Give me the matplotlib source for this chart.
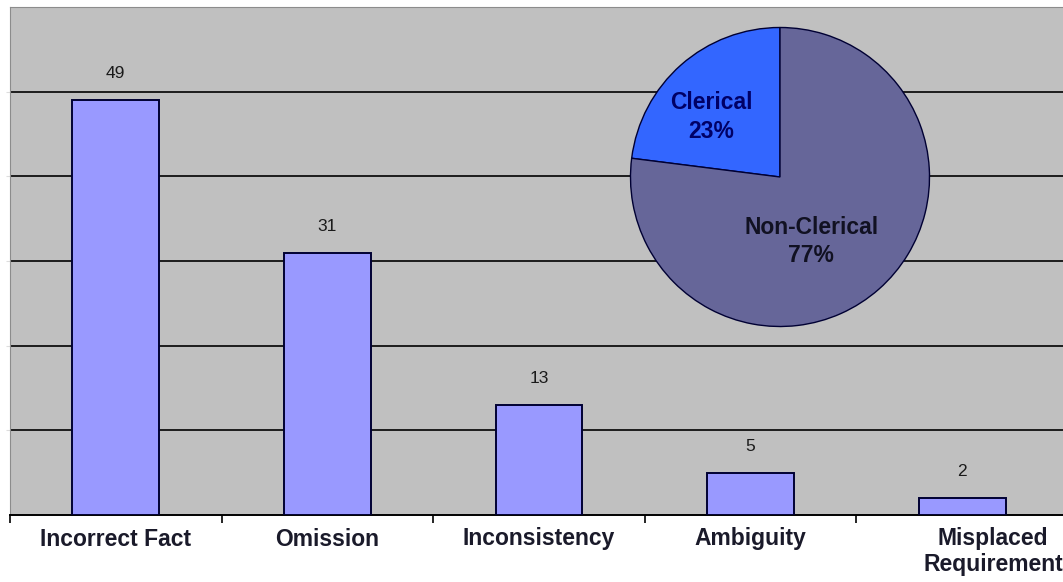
import matplotlib
matplotlib.use('Agg')
import matplotlib.pyplot as plt
import matplotlib.transforms as mtransforms
import numpy as np

plt.rcParams['font.family'] = ['Liberation Sans', 'DejaVu Sans']

# defect counts by category
categories = ['Incorrect Fact', 'Omission', 'Inconsistency', 'Ambiguity', 'Misplaced\nRequirement']
counts = [49, 31, 13, 5, 2]

# clerical vs non-clerical share
pie_labels = ['Clerical', 'Non-Clerical']
pie_shares = [23, 77]
pie_colors = ['#3366FF', '#666699']
pie_text_colors = ['#000066', '#111122']

W, H = 1063, 582
fig = plt.figure(figsize=(W / 100, H / 100), dpi=100)
fig.patch.set_facecolor('white')

# plot area runs slightly past the right edge of the figure
ax = fig.add_axes([10 / W, (H - 515) / H, 1058 / W, 508 / H])
ax.set_facecolor('#C0C0C0')

x = np.arange(len(categories))
ax.bar(x, counts, width=0.41, color='#9999FF', edgecolor='#000033', linewidth=1.4, zorder=3)

for xi, v in zip(x, counts):
    ax.annotate(str(v), (xi, v), xytext=(0, 19), textcoords='offset points',
                ha='center', va='center', fontsize=12.5, color='#1a1a1a', zorder=4)

ax.set_xlim(-0.5, len(categories) - 0.5)
ax.set_ylim(0, 60)
ax.set_yticks(np.arange(10, 60, 10))
ax.yaxis.grid(True, color='black', linewidth=1.2, zorder=1)
ax.tick_params(axis='y', length=3, color='#dddddd', labelleft=False)

ax.set_xticks(x)
ax.set_xticklabels(categories, fontsize=16.5, fontweight='bold', color='#1a1a2a',
                   linespacing=1.12)
ax.tick_params(axis='x', which='major', length=0, pad=9)
ax.set_xticks(np.arange(-0.5, len(categories), 1.0), minor=True)
ax.tick_params(axis='x', which='minor', length=6, width=1.2, color='black')

# last label sits a bit right of its category
last = ax.get_xticklabels()[-1]
last.set_transform(last.get_transform() + mtransforms.ScaledTranslation(0.31, 0, fig.dpi_scale_trans))

for side in ['left', 'top', 'right']:
    ax.spines[side].set_color('#8c8c8c')
ax.spines['bottom'].set_color('black')
ax.spines['bottom'].set_linewidth(1.4)

# inset pie
cx, cy, r = 780, 177, 151
pax = fig.add_axes([(cx - r) / W, (H - cy - r) / H, 2 * r / W, 2 * r / H])
pax.pie(pie_shares, colors=pie_colors, startangle=90, counterclock=True,
        wedgeprops=dict(edgecolor='#000033', linewidth=1.0))
pax.set_xlim(-1.01, 1.01)
pax.set_ylim(-1.01, 1.01)
pax.set_aspect('equal')
pax.axis('off')

label_pos = [(-0.46, 0.40), (0.21, -0.43)]
for (lx, ly), name, share, c in zip(label_pos, pie_labels, pie_shares, pie_text_colors):
    pax.text(lx, ly, f'{name}\n{share}%', ha='center', va='center', fontsize=16.5,
             fontweight='bold', color=c, linespacing=1.3)

fig.savefig('out.png', dpi=100)
